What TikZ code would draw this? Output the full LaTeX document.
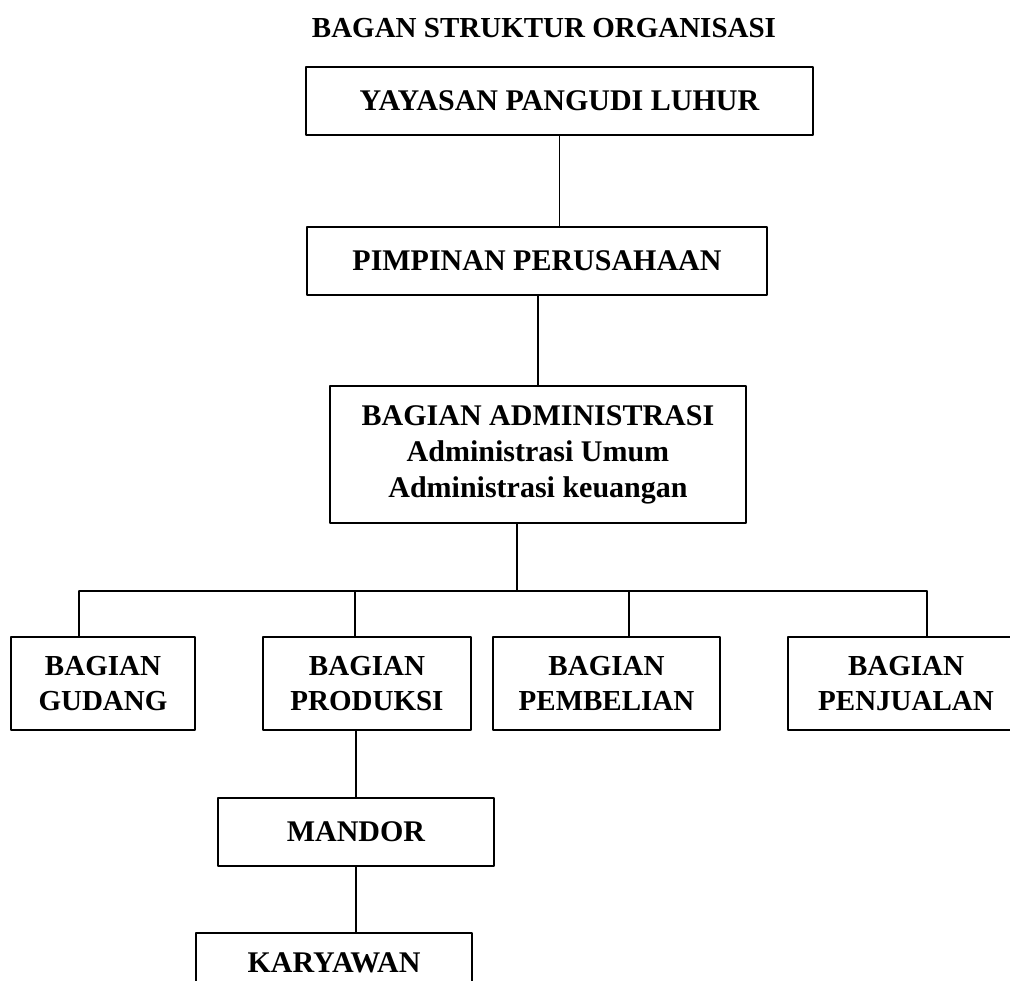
\documentclass[tikz,border=0pt]{standalone}
\usepackage{fontspec}
\setmainfont{Liberation Serif}
\begin{document}
\begin{tikzpicture}[x=1pt,y=-1pt,line cap=round,line join=round,
  box/.style={draw,line width=1.5pt,inner sep=0pt,align=center,font=\fontsize{30}{36}\selectfont\bfseries},
  unitbox/.style={box,minimum width=#1,minimum height=93pt,font=\fontsize{29}{35}\selectfont\bfseries},
  link/.style={line width=1.1pt}]
\useasboundingbox (0,0) rectangle (1010,981);
\node[font=\fontsize{29}{35}\selectfont\bfseries] (title) at (544,28) {BAGAN STRUKTUR ORGANISASI};
\node[box,minimum width=507pt,minimum height=68pt] (yayasan) at (559.5,101) {YAYASAN PANGUDI LUHUR};
\node[box,minimum width=460pt,minimum height=68pt] (pimpinan) at (537,261) {PIMPINAN PERUSAHAAN};
\node[box,minimum width=416pt,minimum height=137pt] (admin) at (538,454.5) {BAGIAN ADMINISTRASI\\Administrasi Umum\\Administrasi keuangan};
\node[unitbox=184pt] (gudang) at (103,683.5) {BAGIAN\\GUDANG};
\node[unitbox=208pt] (produksi) at (367,683.5) {BAGIAN\\PRODUKSI};
\node[unitbox=227pt] (pembelian) at (606.5,683.5) {BAGIAN\\PEMBELIAN};
\node[unitbox=236pt] (penjualan) at (906,683.5) {BAGIAN\\PENJUALAN};
\node[box,minimum width=276pt,minimum height=68pt] (mandor) at (356,832) {MANDOR};
\node[box,minimum width=276pt,minimum height=60pt] (karyawan) at (334,963) {KARYAWAN};
% garis bagian
\coordinate (bus) at (517,591);
\coordinate (bg) at (79,591);
\coordinate (bp) at (355,591);
\coordinate (bb) at (629,591);
\coordinate (bj) at (927,591);
\draw[link] (yayasan.south) -- (yayasan.south |- pimpinan.north);
\draw[link] (admin.north |- pimpinan.south) -- (admin.north);
\draw[link] (bus |- admin.south) -- (bus);
\draw[link] (bg) -- (bj);
\draw[link] (bg) -- (bg |- gudang.north);
\draw[link] (bp) -- (bp |- produksi.north);
\draw[link] (bb) -- (bb |- pembelian.north);
\draw[link] (bj) -- (bj |- penjualan.north);
\draw[link] (mandor.north |- produksi.south) -- (mandor.north);
\draw[link] (mandor.south) -- (mandor.south |- karyawan.north);
\end{tikzpicture}
\end{document}
